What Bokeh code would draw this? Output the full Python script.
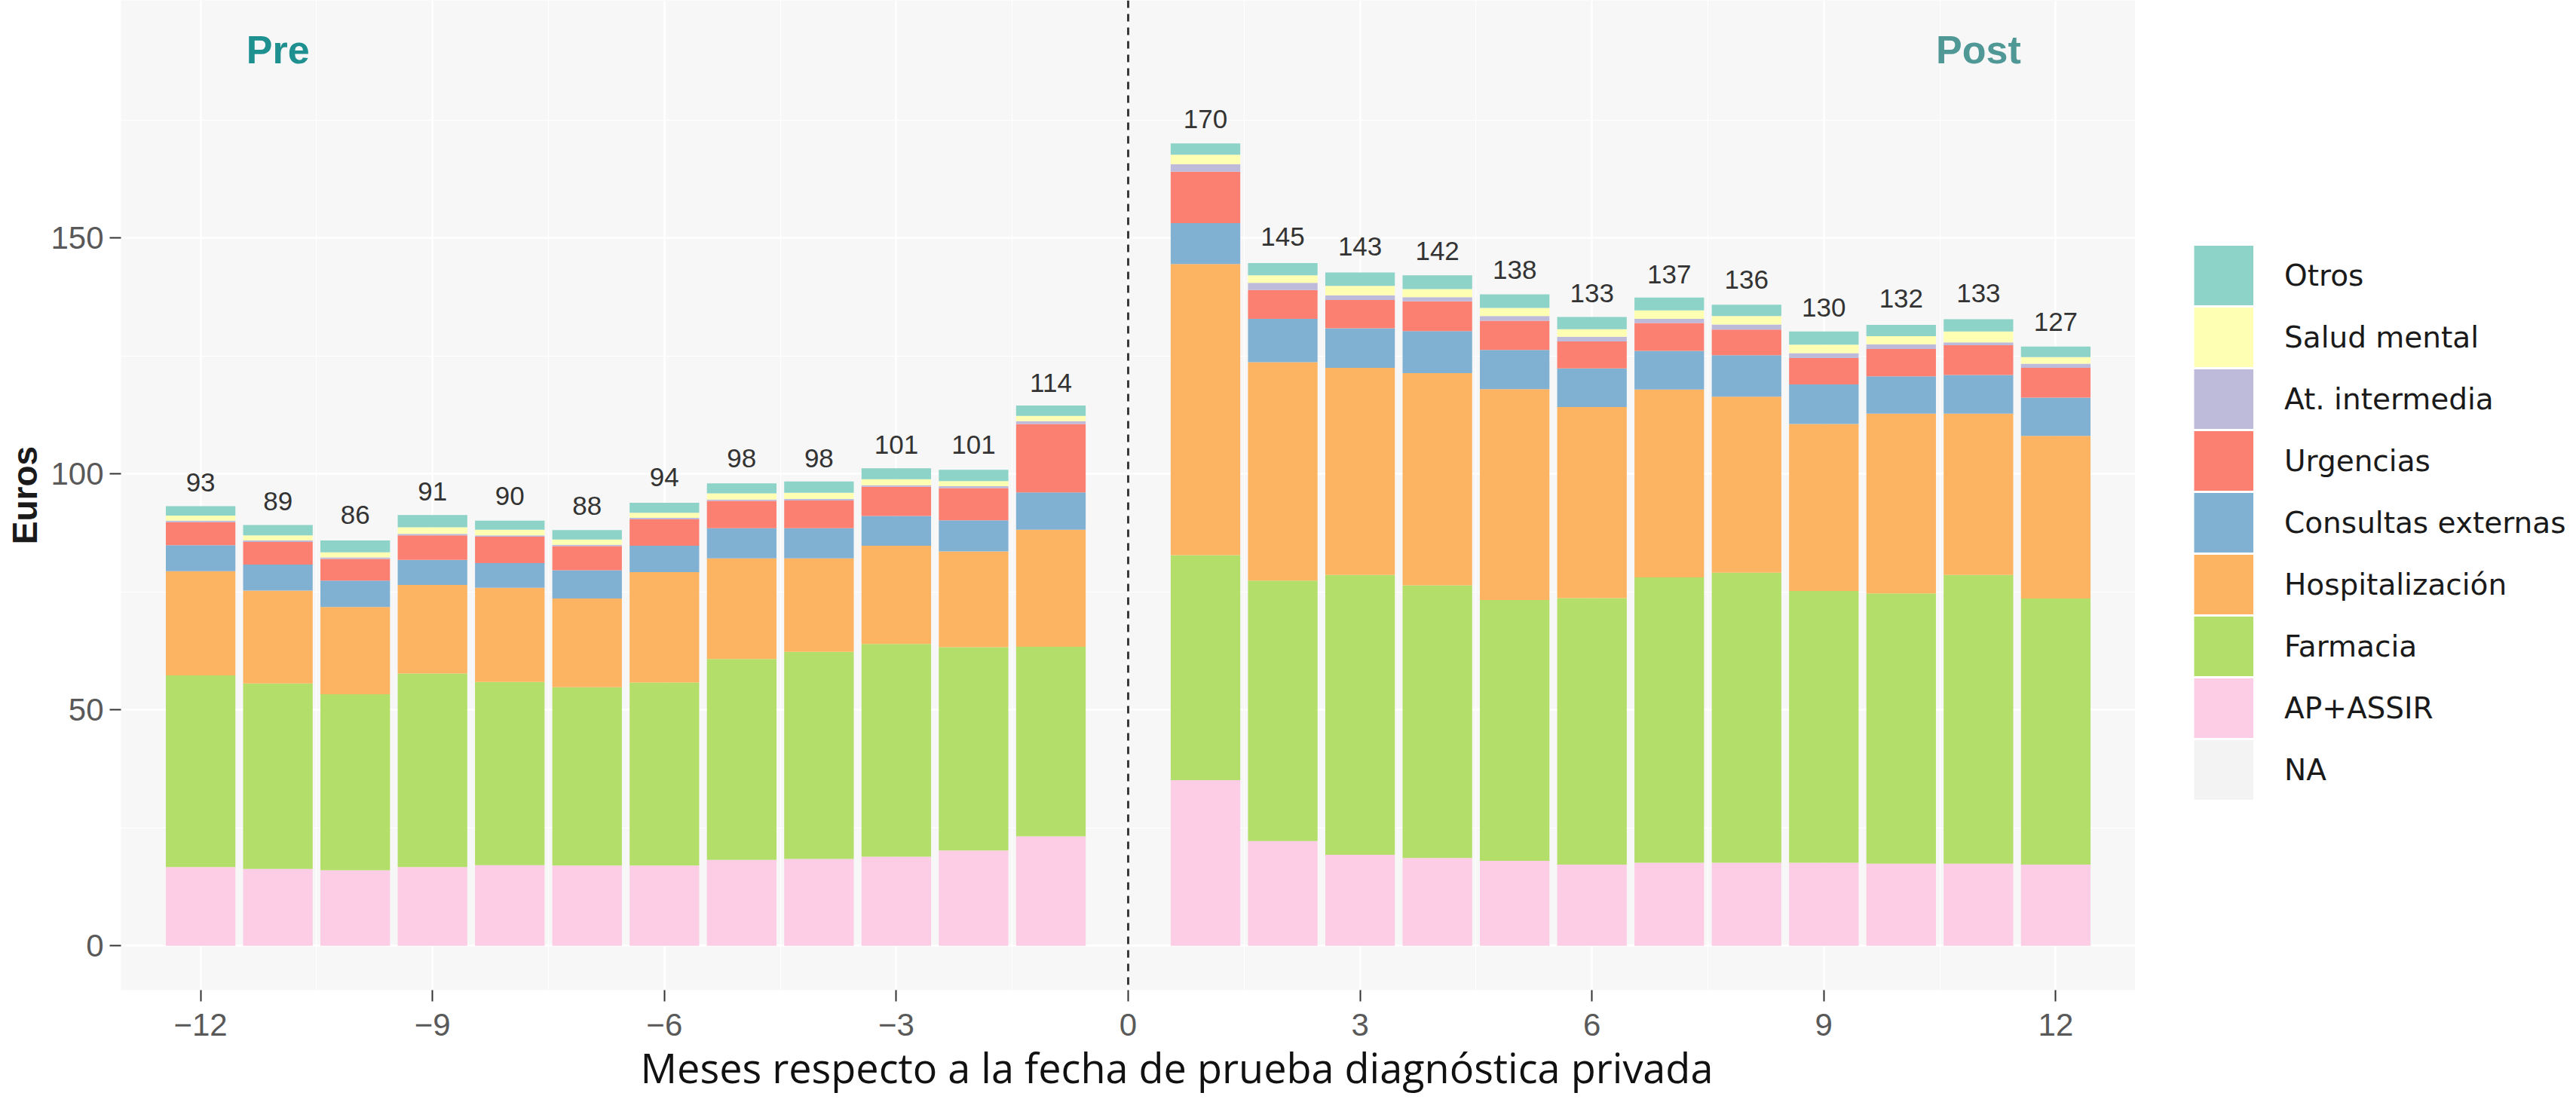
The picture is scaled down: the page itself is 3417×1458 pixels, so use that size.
from bokeh.plotting import figure
from bokeh.models import (ColumnDataSource, Range1d, FixedTicker, Span, Legend,
                          LegendItem, Title)
from bokeh.layouts import row
from bokeh.embed import file_html
from bokeh.resources import INLINE
from bokeh.core.properties import value

# ---------------- data ----------------
months = [-12, -11, -10, -9, -8, -7, -6, -5, -4, -3, -2, -1,
          1, 2, 3, 4, 5, 6, 7, 8, 9, 10, 11, 12]

ap_assir = [16.7, 16.3, 16.0, 16.7, 17.1, 17.0, 17.0, 18.2, 18.4, 18.9, 20.2, 23.2,
            35.1, 22.2, 19.3, 18.6, 18.0, 17.2, 17.6, 17.6, 17.6, 17.4, 17.4, 17.2]
farmacia = [40.6, 39.3, 37.3, 41.0, 38.8, 37.8, 38.8, 42.6, 43.9, 45.1, 43.1, 40.2,
            47.7, 55.2, 59.3, 57.8, 55.3, 56.5, 60.5, 61.5, 57.6, 57.3, 61.2, 56.4]
hospitalizacion = [22.1, 19.7, 18.5, 18.8, 20.0, 18.8, 23.4, 21.3, 19.8, 20.8, 20.3, 24.8,
                   61.7, 46.3, 43.9, 45.0, 44.7, 40.5, 39.8, 37.3, 35.4, 38.1, 34.2, 34.5]
consultas = [5.5, 5.5, 5.6, 5.3, 5.2, 6.0, 5.6, 6.4, 6.4, 6.3, 6.6, 7.9,
             8.7, 9.2, 8.4, 8.9, 8.3, 8.2, 8.2, 8.8, 8.4, 7.9, 8.2, 8.1]
urgencias = [4.9, 4.8, 4.6, 5.2, 5.6, 5.1, 5.6, 5.8, 5.9, 6.2, 6.8, 14.5,
             10.9, 6.1, 6.0, 6.3, 6.2, 5.7, 5.9, 5.4, 5.6, 5.8, 6.3, 6.3]
at_intermedia = [0.3, 0.3, 0.3, 0.3, 0.3, 0.3, 0.3, 0.3, 0.3, 0.3, 0.4, 0.6,
                 1.6, 1.5, 1.0, 0.9, 1.0, 1.0, 0.9, 1.1, 1.0, 1.0, 0.6, 0.9]
salud_mental = [1.1, 1.1, 1.1, 1.4, 1.2, 1.1, 1.1, 1.3, 1.3, 1.3, 1.1, 1.1,
                2.0, 1.6, 2.0, 1.7, 1.7, 1.6, 1.8, 1.8, 1.8, 1.7, 2.3, 1.4]
otros = [2.0, 2.2, 2.5, 2.6, 1.9, 2.0, 2.1, 2.1, 2.4, 2.3, 2.4, 2.2,
         2.4, 2.6, 2.8, 2.9, 2.9, 2.6, 2.7, 2.4, 2.8, 2.4, 2.6, 2.2]
totals = [93, 89, 86, 91, 90, 88, 94, 98, 98, 101, 101, 114,
          170, 145, 143, 142, 138, 133, 137, 136, 130, 132, 133, 127]

stack_keys = ["ap", "farm", "hosp", "cons", "urg", "atint", "salud", "otros"]
stack_names = ["AP+ASSIR", "Farmacia", "Hospitalización", "Consultas externas",
               "Urgencias", "At. intermedia", "Salud mental", "Otros"]
stack_colors = ["#FCCDE5", "#B3DE69", "#FDB462", "#80B1D3",
                "#FB8072", "#BEBADA", "#FFFFB3", "#8DD3C7"]
na_name = "NA"
na_color = "#F3F3F3"

x_ticks = [-12, -9, -6, -3, 0, 3, 6, 9, 12]
y_ticks = [0, 50, 100, 150]
period_labels = ["Pre", "Post"]
x_title = "Meses respecto a la fecha de prueba diagnóstica privada"
y_title = "Euros"

# ---------------- main plot ----------------
source = ColumnDataSource(dict(
    x=months, ap=ap_assir, farm=farmacia, hosp=hospitalizacion, cons=consultas,
    urg=urgencias, atint=at_intermedia, salud=salud_mental, otros=otros,
    total=totals, label=[str(t) for t in totals]))

H = 1458
FRAME_BOTTOM = 1313
p = figure(width=2832, height=H,
           x_range=Range1d(-13.03, 13.03), y_range=Range1d(-9.4, 200.4),
           output_backend="svg", toolbar_location=None,
           min_border_left=160, min_border_right=0, min_border_top=0,
           min_border_bottom=H - FRAME_BOTTOM,
           background_fill_color="#F7F7F7", border_fill_color="white",
           outline_line_color=None)

p.vbar_stack(stack_keys, x="x", width=0.9, fill_color=stack_colors,
             line_color=None, source=source)

p.text(x="x", y="total", text="label", source=source,
       text_font=value("Liberation Sans"), text_font_size="35px",
       text_color="#333333", text_align="center", text_baseline="middle",
       y_offset=-33)

p.text(x=[-11, 11], y=[190, 190], text=period_labels,
       text_font=value("Liberation Sans"), text_font_size="52px",
       text_font_style="bold", text_color=["#1F9090", "#4F9896"],
       text_align="center", text_baseline="middle")

p.add_layout(Span(location=0, dimension="height", line_color="#3a3a3a",
                  line_width=3, line_dash="10 8"))

# axes
p.xaxis.ticker = FixedTicker(ticks=x_ticks)
p.yaxis.ticker = FixedTicker(ticks=y_ticks)
p.xgrid.ticker = FixedTicker(ticks=x_ticks,
                             minor_ticks=[-10.5, -7.5, -4.5, -1.5, 1.5, 4.5, 7.5, 10.5])
p.ygrid.ticker = FixedTicker(ticks=y_ticks, minor_ticks=[25, 75, 125, 175])
for g in (p.xgrid, p.ygrid):
    g.grid_line_color = "white"
    g.grid_line_width = 2.5
    g.minor_grid_line_color = "white"
    g.minor_grid_line_width = 1.2

p.axis.axis_line_color = None
p.axis.major_tick_line_color = "#333333"
p.axis.major_tick_line_width = 2
p.axis.major_tick_out = 15
p.axis.major_tick_in = 0
p.axis.minor_tick_line_color = None
p.axis.major_label_text_font = "Liberation Sans"
p.axis.major_label_text_font_size = "42px"
p.axis.major_label_text_color = "#595959"
p.xaxis.major_label_standoff = 16
p.yaxis.major_label_standoff = 8

p.yaxis.axis_label = y_title
p.yaxis.axis_label_text_font = "Liberation Sans"
p.yaxis.axis_label_text_font_size = "46px"
p.yaxis.axis_label_text_font_style = "bold"
p.yaxis.axis_label_text_color = "#1a1a1a"
p.yaxis.axis_label_standoff = 5

# x-axis title (off-centre to the right, as in the reference)
p.add_layout(Title(text=x_title, align="left", offset=689, standoff=0,
                   text_font="Open Sans", text_font_size="54px",
                   text_font_style="normal", text_color="#111111"), "below")

# ---------------- legend panel ----------------
pl = figure(width=577, height=H, x_range=Range1d(0, 1), y_range=Range1d(0, 1),
            output_backend="svg", toolbar_location=None,
            x_axis_location=None, y_axis_location=None,
            min_border=0, outline_line_color=None,
            background_fill_color="white", border_fill_color="white")
pl.grid.visible = False

items = []
for name, color in list(zip(stack_names, stack_colors))[::-1] + [(na_name, na_color)]:
    # thick off-screen line: its legend swatch is a full-width solid key
    r = pl.line(x=[10, 11], y=[10, 10], line_width=79, line_color=color, line_cap="butt")
    items.append(LegendItem(label=name, renderers=[r]))

# the row aligns this frame with the main frame (bottom at FRAME_BOTTOM)
legend = Legend(items=items, location=(78, FRAME_BOTTOM - 1062),
                glyph_width=79, glyph_height=82, spacing=0, label_standoff=41,
                padding=0, margin=0, border_line_color=None, background_fill_alpha=0,
                label_text_font="DejaVu Sans", label_text_font_size="39px",
                label_text_color="#1a1a1a")
pl.add_layout(legend)

layout = row(p, pl, spacing=0)
open("out.html", "w").write(file_html(layout, INLINE))
